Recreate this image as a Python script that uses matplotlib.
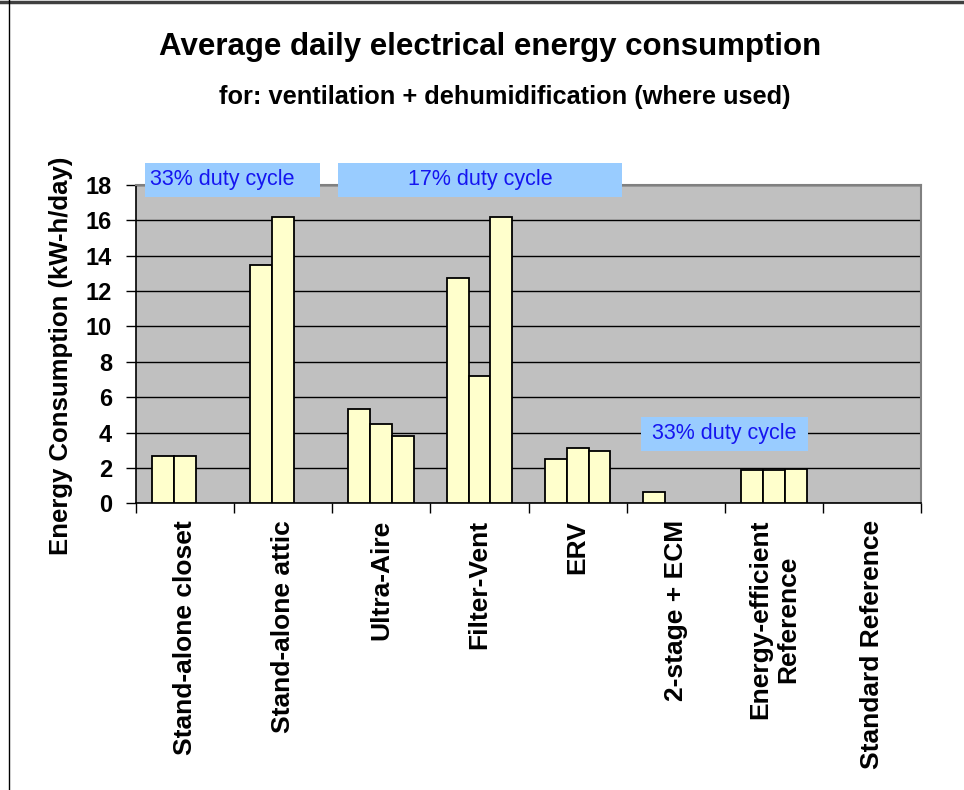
import numpy as np
import matplotlib
matplotlib.use("Agg")
import matplotlib.pyplot as plt
from matplotlib.patches import Rectangle
from matplotlib.lines import Line2D

plt.rcParams['font.family'] = ['Liberation Sans', 'DejaVu Sans']

# данные
categories = ['Stand-alone closet', 'Stand-alone attic', 'Ultra-Aire', 'Filter-Vent',
              'ERV', '2-stage + ECM', 'Energy-efficient\nReference', 'Standard Reference']
series_1 = [2.70, 13.47, 5.34, 12.75, 2.51, 0.62, 1.87, np.nan]
series_2 = [2.70, 16.19, 4.51, 7.21, 3.15, np.nan, 1.87, np.nan]
series_3 = [np.nan, np.nan, 3.79, 16.19, 2.98, np.nan, 1.96, np.nan]
y_ticks = [0, 2, 4, 6, 8, 10, 12, 14, 16, 18]

fig = plt.figure(figsize=(9.64, 7.9), dpi=100)
ax = fig.add_axes([0.1408, 0.3629, 0.8149, 0.4029])
ax.set_facecolor('#C0C0C0')

x = np.arange(len(categories))
bw = 1 / 4.5
for k, vals in enumerate([series_1, series_2, series_3]):
    ax.bar(x + (k - 1) * bw, vals, width=bw, color='#FFFFCC', edgecolor='black',
           linewidth=1.3, zorder=3)

ax.set_xlim(-0.5, len(categories) - 0.5)
ax.set_ylim(0, 18)
ax.set_yticks(y_ticks)
ax.set_yticklabels([str(v) for v in y_ticks], fontsize=17, fontweight='bold')
ax.yaxis.grid(True, color='black', linewidth=1.0, zorder=1)
ax.set_axisbelow(True)

# подписи категорий по центрам, засечки на границах
ax.set_xticks(x)
ax.set_xticklabels(categories, rotation=90, fontsize=19, fontweight='bold',
                   ha='center', va='top', multialignment='center')
ax.tick_params(axis='x', which='major', length=0, pad=12)
ax.set_xticks(np.arange(len(categories) + 1) - 0.5, minor=True)
ax.tick_params(axis='x', which='minor', length=7, width=1, direction='out')
ax.tick_params(axis='y', length=7, width=1, direction='out', pad=10)

for s in ['top', 'right']:
    ax.spines[s].set_color('#808080')
    ax.spines[s].set_linewidth(1.5)
for s in ['left', 'bottom']:
    ax.spines[s].set_color('black')
    ax.spines[s].set_linewidth(1.2)

# голубые плашки с подписями
boxes = [(-0.405, 17.32, 1.782, 1.94), (1.560, 17.32, 2.892, 1.94), (4.646, 2.96, 1.70, 1.92)]
for bx, by, bwid, bh in boxes:
    ax.add_patch(Rectangle((bx, by), bwid, bh, facecolor='#99CCFF', edgecolor='none',
                           zorder=5, clip_on=False))
ax.text(-0.354, 18.29, '33% duty cycle', fontsize=15.5, color='#1515F0', ha='left',
        va='center', zorder=6, clip_on=False)
ax.text(3.006, 18.29, '17% duty cycle', fontsize=15.5, color='#1515F0', ha='center',
        va='center', zorder=6, clip_on=False)
ax.text(5.496, 3.92, '33% duty cycle', fontsize=15.5, color='#1515F0', ha='center',
        va='center', zorder=6)

fig.text(490 / 964, 1 - 47 / 790, 'Average daily electrical energy consumption',
         fontsize=22.5, fontweight='bold', ha='center', va='center')
fig.text(505 / 964, 1 - 97 / 790, 'for: ventilation + dehumidification (where used)',
         fontsize=18.3, fontweight='bold', ha='center', va='center')
fig.text(61 / 964, 1 - 356 / 790, 'Energy Consumption (kW-h/day)', fontsize=18.5,
         fontweight='bold', rotation=90, ha='center', va='center')

# рамка рисунка (верх и левый край)
fig.add_artist(Line2D([0, 1], [1 - 1.5 / 790, 1 - 1.5 / 790], color='#404040', linewidth=2.5,
                      transform=fig.transFigure))
fig.add_artist(Line2D([8.5 / 964, 8.5 / 964], [0, 1], color='black', linewidth=1,
                      transform=fig.transFigure))

fig.savefig('out.png', dpi=100)
